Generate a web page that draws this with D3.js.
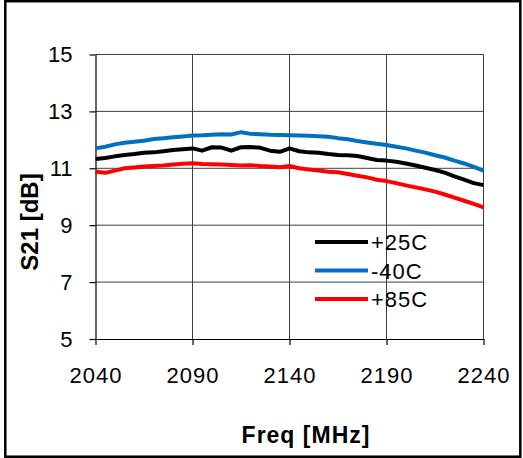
<!DOCTYPE html>
<html>
<head>
<meta charset="utf-8">
<script src="https://cdn.jsdelivr.net/npm/d3@7"></script>
<style>
  body { margin: 0; background: #fff; }
  text { font-family: Arial, "Liberation Sans", sans-serif; fill: #000; }
</style>
</head>
<body>
<div id="chart"></div>
<script>
// Data
const freq = [2040, 2045, 2050, 2055, 2060, 2065, 2070, 2075, 2080, 2085, 2090,
  2095, 2100, 2105, 2110, 2115, 2120, 2125, 2130, 2135, 2140,
  2145, 2150, 2155, 2160, 2165, 2170, 2175, 2180, 2185, 2190,
  2195, 2200, 2205, 2210, 2215, 2220, 2225, 2230, 2235, 2240];

const s21_25C = [11.33, 11.36, 11.42, 11.47, 11.50, 11.55, 11.56, 11.60, 11.64, 11.67, 11.70,
  11.62, 11.74, 11.73, 11.62, 11.74, 11.75, 11.72, 11.62, 11.58, 11.70,
  11.60, 11.56, 11.55, 11.50, 11.47, 11.46, 11.43, 11.36, 11.29, 11.27,
  11.23, 11.17, 11.10, 11.02, 10.94, 10.85, 10.72, 10.60, 10.48, 10.41];

const s21_m40C = [11.70, 11.76, 11.84, 11.90, 11.93, 11.97, 12.03, 12.06, 12.09, 12.12, 12.15,
  12.16, 12.18, 12.20, 12.19, 12.27, 12.21, 12.20, 12.18, 12.17, 12.16,
  12.15, 12.14, 12.13, 12.11, 12.06, 12.02, 11.96, 11.91, 11.86, 11.82,
  11.76, 11.70, 11.62, 11.55, 11.46, 11.38, 11.27, 11.17, 11.05, 10.92];

const s21_85C = [10.88, 10.84, 10.92, 11.00, 11.03, 11.06, 11.08, 11.10, 11.13, 11.16, 11.18,
  11.15, 11.14, 11.13, 11.12, 11.10, 11.11, 11.08, 11.06, 11.04, 11.08,
  11.00, 10.96, 10.92, 10.88, 10.86, 10.80, 10.74, 10.68, 10.60, 10.55,
  10.48, 10.40, 10.33, 10.26, 10.18, 10.08, 9.97, 9.86, 9.75, 9.63];

const seriesNames = ["+25C", "-40C", "+85C"];
const seriesColors = ["#000000", "#0070C0", "#FF0000"];
const xTicks = [2040, 2090, 2140, 2190, 2240];
const yTicks = [5, 7, 9, 11, 13, 15];

const series = [s21_25C, s21_m40C, s21_85C].map((vals, i) => ({
  name: seriesNames[i],
  color: seriesColors[i],
  points: vals.map((v, j) => ({f: freq[j], v: v}))
}));

// Dimensions
const W = 523, H = 458;
const margin = {top: 54.5, right: 39.5, bottom: 119, left: 95.5},
    width = W - margin.left - margin.right,
    height = H - margin.top - margin.bottom;

const svg = d3.select("#chart").append("svg")
    .attr("width", W)
    .attr("height", H);

// Outer frame
svg.append("rect")
    .attr("x", 5.3).attr("y", 1.2)
    .attr("width", 515).attr("height", 455.5)
    .attr("fill", "none")
    .attr("stroke", "#000")
    .attr("stroke-width", 2.5);

const g = svg.append("g")
    .attr("transform", "translate(" + margin.left + "," + margin.top + ")");

// Scales
const xScale = d3.scaleLinear().domain([2040, 2240]).range([0, width]);
const yScale = d3.scaleLinear().domain([5, 15]).range([height, 0]);

// Gridlines
g.append("g").selectAll("line")
    .data(yTicks.slice(1))
    .enter().append("line")
    .attr("x1", 0).attr("x2", width)
    .attr("y1", d => yScale(d)).attr("y2", d => yScale(d))
    .attr("stroke", "#404040").attr("stroke-width", 1);

g.append("g").selectAll("line")
    .data(xTicks.slice(1))
    .enter().append("line")
    .attr("x1", d => xScale(d)).attr("x2", d => xScale(d))
    .attr("y1", 0).attr("y2", height)
    .attr("stroke", "#404040").attr("stroke-width", 1);

// X axis
const xAxis = g.append("g")
    .attr("transform", "translate(0," + height + ")")
    .call(d3.axisBottom(xScale).tickValues(xTicks).tickFormat(d3.format("d"))
        .tickSize(6).tickSizeOuter(0).tickPadding(22));
xAxis.selectAll("text")
    .style("font-size", "22px")
    .style("letter-spacing", "1px");

// Y axis
const yAxis = g.append("g")
    .call(d3.axisLeft(yScale).tickValues(yTicks).tickFormat(d3.format("d"))
        .tickSize(6).tickSizeOuter(0).tickPadding(17));
yAxis.selectAll("text")
    .style("font-size", "22px");

g.selectAll(".domain, .tick line").attr("stroke", "#000").attr("stroke-width", 1.2);

// Lines
const line = d3.line()
    .x(d => xScale(d.f))
    .y(d => yScale(d.v));

g.selectAll(".series")
    .data(series)
    .enter().append("path")
    .attr("class", "series")
    .attr("fill", "none")
    .attr("stroke", d => d.color)
    .attr("stroke-width", 4)
    .attr("stroke-linejoin", "round")
    .attr("d", d => line(d.points));

// Legend
const legend = svg.append("g");
const legendY = d3.scalePoint().domain(seriesNames).range([242, 299]);
series.forEach(s => {
  legend.append("line")
      .attr("x1", 315).attr("x2", 368)
      .attr("y1", legendY(s.name)).attr("y2", legendY(s.name))
      .attr("stroke", s.color).attr("stroke-width", 4);
  legend.append("text")
      .attr("x", 371).attr("y", legendY(s.name) + 8)
      .style("font-size", "22px")
      .style("letter-spacing", "1px")
      .text(s.name);
});

// Axis titles
svg.append("text")
    .attr("x", 306).attr("y", 443)
    .attr("text-anchor", "middle")
    .style("font-size", "23px")
    .style("font-weight", "bold")
    .style("letter-spacing", "1px")
    .text("Freq [MHz]");

svg.append("text")
    .attr("transform", "translate(38,222) rotate(-90)")
    .attr("text-anchor", "middle")
    .style("font-size", "24px")
    .style("font-weight", "bold")
    .text("S21 [dB]");
</script>
</body>
</html>
